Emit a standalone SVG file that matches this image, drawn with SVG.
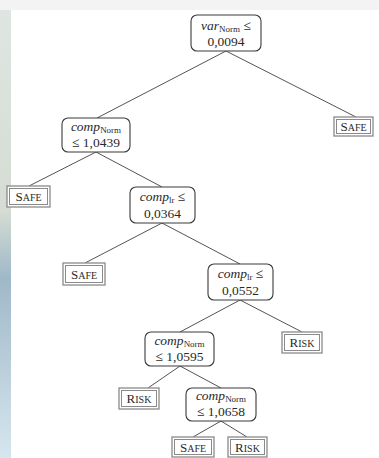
<svg xmlns="http://www.w3.org/2000/svg" width="379" height="458" viewBox="0 0 379 458">
<defs>
<linearGradient id="strip" x1="0" y1="0" x2="0" y2="1">
<stop offset="0" stop-color="#dfe6e2"/>
<stop offset="0.45" stop-color="#d4dcd3"/>
<stop offset="0.6" stop-color="#9fb8c8"/>
<stop offset="1" stop-color="#d6e6ee"/>
</linearGradient>
</defs>
<style>
.bg{fill:#ffffff}
.n rect{fill:#fff;stroke:#3a3a3a;stroke-width:1.1}
.leaf .o{fill:#fff;stroke:#8a8a8a;stroke-width:1.3}
.leaf .i{fill:#fff;stroke:#8a8a8a;stroke-width:1}
text{font-family:"Liberation Serif","DejaVu Serif",serif;fill:#2a2a2a;text-anchor:middle}
.t{font-size:13.5px}
.it{font-style:italic}
.sub{font-size:9px;font-style:normal}
.sc{font-size:10px}
.big{font-size:13px}
#edges line{stroke:#5a5058;stroke-width:1}
</style>
<rect class="bg" x="0" y="0" width="379" height="458"/>
<rect x="0" y="0" width="379" height="10" fill="#f3f3f3"/>
<rect x="0" y="10" width="11" height="448" fill="url(#strip)"/>
<g id="edges">
<line x1="226" y1="51" x2="97" y2="118"/>
<line x1="226" y1="51" x2="356" y2="117"/>
<line x1="96" y1="152" x2="29" y2="186"/>
<line x1="96" y1="152" x2="162" y2="187"/>
<line x1="162" y1="223" x2="85" y2="263"/>
<line x1="162" y1="223" x2="240" y2="264"/>
<line x1="240" y1="300" x2="180" y2="332"/>
<line x1="240" y1="300" x2="302" y2="332"/>
<line x1="180" y1="366" x2="148" y2="388"/>
<line x1="180" y1="366" x2="221" y2="388"/>
<line x1="221" y1="421" x2="193" y2="437"/>
<line x1="221" y1="421" x2="247" y2="437"/>
</g>
<g id="root" class="n">
<rect x="191" y="15" width="70" height="36" rx="6"/>
<text class="t" x="226" y="30"><tspan class="it">var</tspan><tspan class="sub" dy="2">Norm</tspan><tspan dy="-2"> ≤</tspan></text>
<text class="t" x="226" y="46">0,0094</text>
</g>
<g id="n1" class="n">
<rect x="62" y="118" width="68" height="34" rx="6"/>
<text class="t" x="96" y="131"><tspan class="it">comp</tspan><tspan class="sub" dy="2">Norm</tspan></text>
<text class="t" x="96" y="147">≤ 1,0439</text>
</g>
<g id="leaf_safe1" class="leaf">
<rect class="o" x="334" y="117" width="39" height="19"/>
<rect class="i" x="336.5" y="119.5" width="34" height="14"/>
<text x="353.5" y="131"><tspan class="big">S</tspan><tspan class="sc">AFE</tspan></text>
</g>
<g id="leaf_safe2" class="leaf">
<rect class="o" x="7" y="186" width="43" height="21"/>
<rect class="i" x="9.5" y="188.5" width="38" height="16"/>
<text x="28.5" y="201"><tspan class="big">S</tspan><tspan class="sc">AFE</tspan></text>
</g>
<g id="n2" class="n">
<rect x="130" y="187" width="65" height="36" rx="6"/>
<text class="t" x="162.5" y="201"><tspan class="it">comp</tspan><tspan class="sub" dy="2">lr</tspan><tspan dy="-2"> ≤</tspan></text>
<text class="t" x="162.5" y="218">0,0364</text>
</g>
<g id="leaf_safe3" class="leaf">
<rect class="o" x="63" y="263" width="42" height="22"/>
<rect class="i" x="65.5" y="265.5" width="37" height="17"/>
<text x="84" y="279"><tspan class="big">S</tspan><tspan class="sc">AFE</tspan></text>
</g>
<g id="n3" class="n">
<rect x="208" y="264" width="65" height="36" rx="6"/>
<text class="t" x="240.5" y="278"><tspan class="it">comp</tspan><tspan class="sub" dy="2">lr</tspan><tspan dy="-2"> ≤</tspan></text>
<text class="t" x="240.5" y="295">0,0552</text>
</g>
<g id="n4" class="n">
<rect x="145" y="332" width="69" height="34" rx="6"/>
<text class="t" x="179.5" y="345"><tspan class="it">comp</tspan><tspan class="sub" dy="2">Norm</tspan></text>
<text class="t" x="179.5" y="361">≤ 1,0595</text>
</g>
<g id="leaf_risk1" class="leaf">
<rect class="o" x="282" y="332" width="40" height="21"/>
<rect class="i" x="284.5" y="334.5" width="35" height="16"/>
<text x="302" y="347"><tspan class="big">R</tspan><tspan class="sc">ISK</tspan></text>
</g>
<g id="leaf_risk2" class="leaf">
<rect class="o" x="119" y="388" width="40" height="21"/>
<rect class="i" x="121.5" y="390.5" width="35" height="16"/>
<text x="139" y="403"><tspan class="big">R</tspan><tspan class="sc">ISK</tspan></text>
</g>
<g id="n5" class="n">
<rect x="186" y="388" width="70" height="33" rx="6"/>
<text class="t" x="221" y="400"><tspan class="it">comp</tspan><tspan class="sub" dy="2">Norm</tspan></text>
<text class="t" x="221" y="416">≤ 1,0658</text>
</g>
<g id="leaf_safe4" class="leaf">
<rect class="o" x="172" y="437" width="42" height="20"/>
<rect class="i" x="174.5" y="439.5" width="37" height="15"/>
<text x="193" y="452"><tspan class="big">S</tspan><tspan class="sc">AFE</tspan></text>
</g>
<g id="leaf_risk3" class="leaf">
<rect class="o" x="228" y="437" width="39" height="20"/>
<rect class="i" x="230.5" y="439.5" width="34" height="15"/>
<text x="247.5" y="452"><tspan class="big">R</tspan><tspan class="sc">ISK</tspan></text>
</g>
</svg>
